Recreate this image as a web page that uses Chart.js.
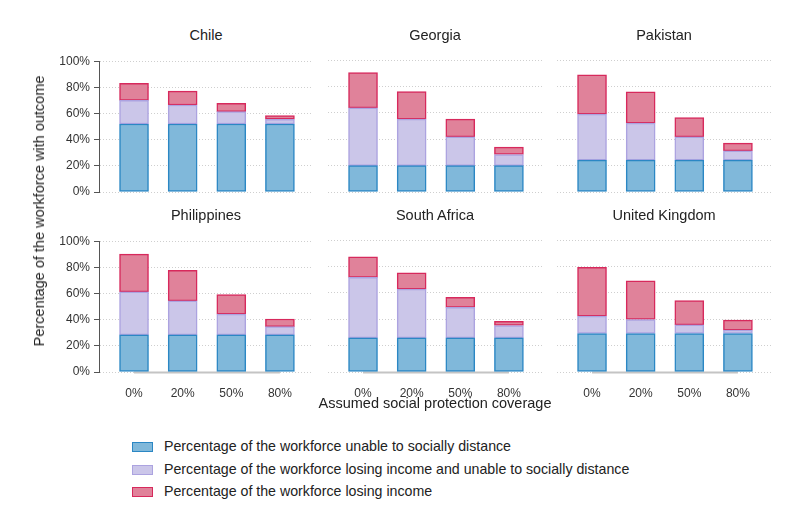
<!DOCTYPE html>
<html>
<head>
<meta charset="utf-8">
<script src="https://cdn.jsdelivr.net/npm/chart.js@4.4.1/dist/chart.umd.min.js"></script>
<style>
  body { margin: 0; width: 798px; height: 532px; background: #fff; position: relative; overflow: hidden;
         font-family: "Liberation Sans", Arial, sans-serif; color: #222; }
  canvas { position: absolute; }
  .title { position: absolute; font-size: 14.5px; white-space: nowrap; transform: translate(-50%, -50%); }
  .ytitle { position: absolute; font-size: 14.5px; white-space: nowrap; transform: translate(-50%, -50%) rotate(-90deg); }
  .leg { position: absolute; font-size: 14.2px; white-space: nowrap; }
  .box { position: absolute; width: 19px; height: 8px; }
</style>
</head>
<body>

<script>
// data
const coverage = ['0%', '20%', '50%', '80%'];
const countries = ['Chile', 'Georgia', 'Pakistan', 'Philippines', 'South Africa', 'United Kingdom'];
const yTicks = [0, 20, 40, 60, 80, 100];

// one row per country, one value per coverage level
const unableToDistance = [
  [52, 52, 52, 52],
  [20, 20, 20, 20],
  [24.2, 24.2, 24.2, 24.2],
  [28.4, 28.4, 28.4, 28.4],
  [25.8, 25.8, 25.8, 25.8],
  [29.2, 29.2, 29.2, 29.2]
];
const losingAndUnable = [
  [18, 14.5, 9.5, 3.6],
  [43.7, 35.2, 21.8, 8.4],
  [34.8, 28, 17.6, 7],
  [32.9, 26, 15.9, 6.3],
  [45.9, 37, 23.1, 9.4],
  [13.1, 10.6, 6.5, 2.5]
];
const losingIncome = [
  [13, 10.6, 6.3, 2.8],
  [26.7, 20.8, 13.4, 5.6],
  [29.7, 23.6, 14.6, 5.8],
  [28.8, 23.4, 14.9, 5.8],
  [15.6, 12.4, 7.6, 3.1],
  [37, 29.3, 18.5, 7.6]
];

const seriesNames = [
  'Percentage of the workforce unable to socially distance',
  'Percentage of the workforce losing income and unable to socially distance',
  'Percentage of the workforce losing income'
];
const fills = ['#80b8da', '#cbc6e9', '#e0829a'];
const borders = ['#2b87c4', '#aca3e0', '#d7295c'];

// panel geometry
const plotLeft = [99, 328, 557];
const plotTop = [60, 240];
const plotW = 214, plotH = 132;
const AXW = 60, PADT = 10, PADR = 10, XAH = 28;

const baseline = {
  id: 'baseline',
  beforeDatasetsDraw(chart, args, opts) {
    if (!opts.show) return;
    const xs = chart.scales.x, ys = chart.scales.y, ctx = chart.ctx;
    const y0 = ys.getPixelForValue(0) + 0.5;
    ctx.save();
    ctx.strokeStyle = '#c4c4c4';
    ctx.lineWidth = 2;
    ctx.beginPath();
    ctx.moveTo(xs.getPixelForValue(0), y0);
    ctx.lineTo(xs.getPixelForValue(coverage.length - 1), y0);
    ctx.stroke();
    ctx.restore();
  }
};

function addText(cls, txt, x, y) {
  const d = document.createElement('div');
  d.className = cls;
  d.textContent = txt;
  d.style.left = x + 'px';
  d.style.top = y + 'px';
  document.body.appendChild(d);
  return d;
}

countries.forEach((name, i) => {
  const row = Math.floor(i / 3), col = i % 3;
  const left = col === 0, bottom = row === 1;

  const cv = document.createElement('canvas');
  const w = AXW + plotW + PADR, h = PADT + plotH + XAH;
  cv.width = w; cv.height = h;
  cv.style.left = (plotLeft[col] - AXW) + 'px';
  cv.style.top = (plotTop[row] - PADT) + 'px';
  cv.style.width = w + 'px'; cv.style.height = h + 'px';
  document.body.appendChild(cv);

  addText('title', name, plotLeft[col] + plotW / 2, plotTop[row] - 25);

  const series = [unableToDistance[i], losingAndUnable[i], losingIncome[i]];
  new Chart(cv, {
    type: 'bar',
    data: {
      datasets: series.map((vals, k) => ({
        label: seriesNames[k],
        data: vals.map((v, j) => ({ x: j, y: v })),
        backgroundColor: fills[k],
        borderColor: borders[k],
        borderWidth: 1.5,
        borderSkipped: false,
        barThickness: 29
      }))
    },
    options: {
      responsive: false,
      animation: false,
      events: [],
      layout: { padding: { top: PADT, right: PADR, left: 0, bottom: 0 } },
      plugins: { legend: { display: false }, tooltip: { enabled: false }, baseline: { show: bottom } },
      scales: {
        x: {
          type: 'linear',
          stacked: true,
          offset: false,
          min: -0.72, max: 3.68,
          afterBuildTicks: s => { s.ticks = coverage.map((c, j) => ({ value: j })); },
          afterFit: s => { s.height = XAH; },
          grid: { display: false, offset: false },
          border: { display: false },
          ticks: {
            display: bottom, maxRotation: 0, padding: 6, color: '#333',
            font: { family: '"Liberation Sans", Arial, sans-serif', size: 12 },
            callback: v => coverage[v]
          }
        },
        y: {
          stacked: true,
          min: 0, max: 100,
          afterBuildTicks: s => { s.ticks = yTicks.map(v => ({ value: v })); },
          afterFit: s => { s.width = AXW; },
          grid: { color: '#cfcfcf', lineWidth: 1, drawTicks: left, tickLength: 5, tickColor: '#555', tickBorderDash: [] },
          border: { display: left, color: '#555', width: 1, dash: [1, 2] },
          ticks: {
            display: left, padding: 4, color: '#333',
            font: { family: '"Liberation Sans", Arial, sans-serif', size: 12 },
            callback: v => v + '%'
          }
        }
      }
    },
    plugins: [baseline]
  });
});

addText('ytitle', 'Percentage of the workforce with outcome', 39, 211);
addText('title', 'Assumed social protection coverage', 435, 403);

seriesNames.forEach((s, k) => {
  const cy = 447 + k * 22.5;
  const b = document.createElement('div');
  b.className = 'box';
  b.style.left = '132px';
  b.style.top = (cy - 5) + 'px';
  b.style.background = fills[k];
  b.style.border = '1px solid ' + borders[k];
  document.body.appendChild(b);
  addText('leg', s, 164, cy - 9);
});
</script>
</body>
</html>
